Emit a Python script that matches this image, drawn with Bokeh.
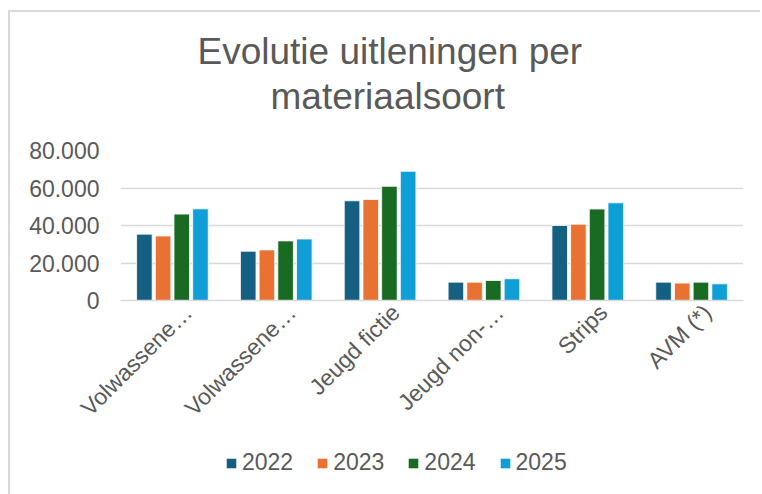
from math import pi
from bokeh.plotting import figure
from bokeh.layouts import column
from bokeh.models import (Range1d, Legend, LegendItem, Title, LinearAxis,
                          FixedTicker, CustomJSTickFormatter)
from bokeh.embed import file_html
from bokeh.resources import INLINE

categories = ["Volwassenen fictie", "Volwassenen non-fictie", "Jeugd fictie",
              "Jeugd non-fictie", "Strips", "AVM (*)"]
category_labels = ["Volwassene…", "Volwassene…", "Jeugd fictie",
                   "Jeugd non-…", "Strips", "AVM (*)"]
years = ["2022", "2023", "2024", "2025"]
v2022 = [35400, 26300, 53200, 9800, 40000, 9800]
v2023 = [34400, 27000, 53900, 9800, 40700, 9300]
v2024 = [46100, 31800, 60900, 10700, 48800, 9800]
v2025 = [48900, 32800, 68900, 11600, 52100, 8900]
y_ticks = [0, 20000, 40000, 60000, 80000]
title_lines = ["Evolutie uitleningen per", "materiaalsoort"]

colors = ["#156082", "#E97132", "#196B24", "#0F9ED5"]
series = [v2022, v2023, v2024, v2025]
offsets = [-0.27, -0.09, 0.09, 0.27]
FONT = "Liberation Sans"
TXT = "#595959"
LABEL_SHIFT = 0.15  # fraction of a category width; labels sit right of the group centre

n = len(categories)
p = figure(width=750, height=428, x_range=Range1d(0, n),
           y_range=Range1d(0, 80000), output_backend="svg", toolbar_location=None,
           x_axis_location=None,
           min_border_left=110, min_border_right=17, min_border_top=138,
           min_border_bottom=140)
p.outline_line_color = None
p.background_fill_color = "white"
p.border_fill_color = "white"

renderers = []
for y, s, c, off in zip(years, series, colors, offsets):
    src = {"x": [i + 0.5 + off for i in range(n)], "top": s, "cat": categories}
    r = p.vbar(x="x", top="top", width=0.15, source=src,
               fill_color=c, line_color="white", line_width=0.8)
    renderers.append(r)

p.xgrid.visible = False
p.ygrid.grid_line_color = "#d9d9d9"
p.ygrid.grid_line_width = 1.5

p.yaxis.ticker = FixedTicker(ticks=y_ticks)
p.yaxis.formatter = CustomJSTickFormatter(
    code="return tick.toFixed(0).replace(/\\B(?=(\\d{3})+(?!\\d))/g, '.');")
p.yaxis.axis_line_color = None
p.yaxis.major_tick_line_color = None
p.yaxis.minor_tick_line_color = None
p.yaxis.major_tick_out = 0
p.yaxis.major_label_standoff = 21
p.yaxis.major_label_text_font = FONT
p.yaxis.major_label_text_font_size = "23px"
p.yaxis.major_label_text_color = TXT

# category label axis (slightly shifted, like the reference's rotated labels)
p.extra_x_ranges = {"lab": Range1d(-LABEL_SHIFT, n - LABEL_SHIFT)}
xax = LinearAxis(x_range_name="lab",
                 ticker=FixedTicker(ticks=[i + 0.5 for i in range(n)], minor_ticks=[]),
                 formatter=CustomJSTickFormatter(args=dict(labels=category_labels),
                                                 code="return labels[Math.floor(tick)];"))
xax.axis_line_color = "#d9d9d9"
xax.axis_line_width = 1.5
xax.major_tick_line_color = None
xax.minor_tick_line_color = None
xax.major_tick_out = 0
xax.major_label_standoff = 8
xax.major_label_orientation = pi / 4
xax.major_label_text_font = FONT
xax.major_label_text_font_size = "23px"
xax.major_label_text_color = TXT
p.add_layout(xax, "below")

# title: spacer nearest the frame, then line 2, then line 1
p.add_layout(Title(text=" ", text_font_size="1px", standoff=31), "above")
p.add_layout(Title(text=title_lines[1], align="left", offset=150, standoff=0,
                   text_font=FONT, text_font_size="37px", text_color=TXT,
                   text_font_style="normal"), "above")
p.add_layout(Title(text=title_lines[0], align="left", offset=77, standoff=4,
                   text_font=FONT, text_font_size="37px", text_color=TXT,
                   text_font_style="normal"), "above")

# legend strip below the chart (its own small figure so the legend sits inside a frame)
leg = figure(width=750, height=54, output_backend="svg", toolbar_location=None,
             x_axis_location=None, y_axis_location=None,
             x_range=Range1d(0, 1), y_range=Range1d(0, 1),
             min_border_left=0, min_border_right=0, min_border_top=0, min_border_bottom=0)
leg.outline_line_color = None
leg.grid.visible = False
leg.background_fill_color = "white"
leg.border_fill_color = "white"
# zero-size proxy bars: they only supply the legend swatches
proxies = [leg.vbar(x=[0], top=[0], bottom=[0], width=0, fill_color=c, line_color=None)
           for c in colors]

legend = Legend(items=[LegendItem(label=y, renderers=[r]) for y, r in zip(years, proxies)],
                location=(105, 18), orientation="horizontal",
                glyph_width=12, glyph_height=12, label_standoff=5, spacing=23,
                padding=0, margin=0, border_line_color=None, background_fill_alpha=0,
                label_text_font=FONT, label_text_font_size="23px",
                label_text_color=TXT)
leg.add_layout(legend)

layout = column(p, leg, spacing=0,
                styles={"border-left": "2px solid #d9d9d9", "border-top": "2px solid #d9d9d9",
                        "margin-top": "10px", "margin-left": "8px"})

open("out.html", "w").write(file_html(layout, INLINE))
